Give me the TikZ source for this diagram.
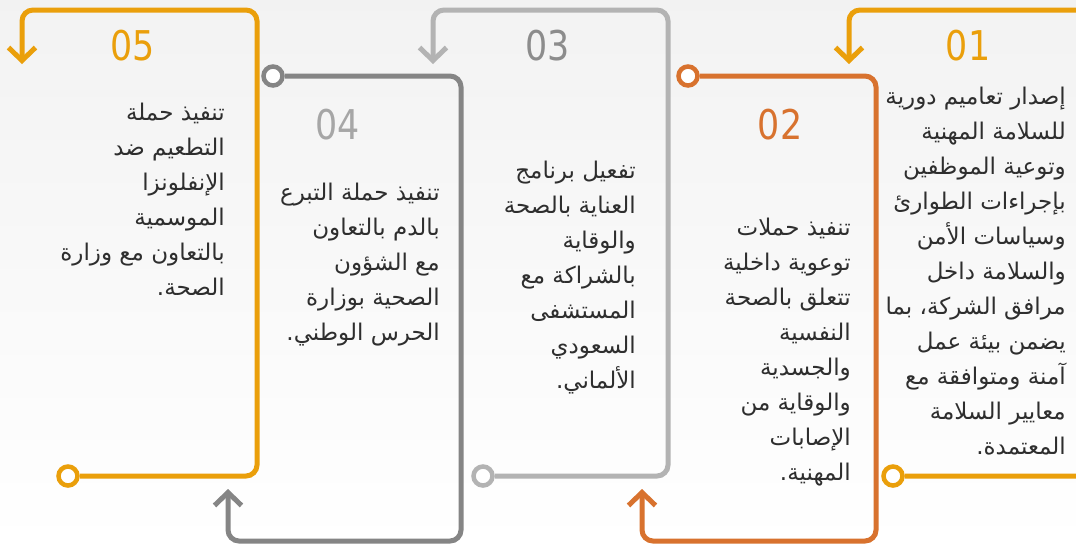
\documentclass[tikz,border=0pt]{standalone}
\usepackage{fontspec}
\usetikzlibrary{arrows.meta}
\TeXXeTstate=1
\newfontfamily\arabicfont[Script=Arabic]{DejaVu Sans}
\newfontfamily\numfont[FakeStretch=0.85]{DejaVu Sans}
\newcommand{\arl}[1]{\beginR #1\endR}
\definecolor{yel}{HTML}{EA9F0B}
\definecolor{org}{HTML}{D8722E}
\definecolor{lgr}{HTML}{B3B3B3}
\definecolor{dgr}{HTML}{858585}
\definecolor{ink}{HTML}{2E2E2E}

\begin{document}
\begin{tikzpicture}[x=1pt, y=-1pt,
		ln/.style={line width=5pt, rounded corners=11pt, -{Straight Barb[length=13pt, width=27pt]}},
		dot/.style={circle, draw, fill=white, line width=4.5pt, minimum size=19pt, inner sep=0pt},
		num/.style={font=\numfont\fontsize{41}{41}\selectfont, inner sep=0pt},
		txt/.style={font=\arabicfont\fontsize{23}{35}\selectfont, text=ink, align=right, anchor=north east, inner sep=0pt}]
			\useasboundingbox (0,0) rectangle (1076,547);
			\clip (0,0) rectangle (1076,547);
			\shade[top color=black!5, bottom color=white] (0,0) rectangle (1076,547);

			% start circles and arrow ends
			\node[dot, draw=yel] (s1) at (893,476) {};
			\node[dot, draw=org] (s2) at (688,76) {};
			\node[dot, draw=lgr] (s3) at (483,476) {};
			\node[dot, draw=dgr] (s4) at (273,76) {};
			\node[dot, draw=yel] (s5) at (68,476) {};
			\coordinate (a1) at (849,64);
			\coordinate (a2) at (642,489);
			\coordinate (a3) at (433,64);
			\coordinate (a4) at (228,489);
			\coordinate (a5) at (22,64);

			\draw[ln, yel] (s1) -| (1100,10) -| (a1);
			\draw[ln, org] (s2) -| (876,541) -| (a2);
			\draw[ln, lgr] (s3) -| (668,10) -| (a3);
			\draw[ln, dgr] (s4) -| (461,541) -| (a4);
			\draw[ln, yel] (s5) -| (257,10) -| (a5);

			% numbers
			\node[num, text=yel] (n1) at (968,46) {01};
			\node[num, text=org] (n2) at (780,125) {02};
			\node[num, text=black!45] (n3) at (548,46) {03};
			\node[num, text=black!35] (n4) at (338,125) {04};
			\node[num, text=yel] (n5) at (133,46) {05};

			% texts
			\node[txt] (t1) at (1066,87) {\arl{إصدار تعاميم دورية}\\ \arl{للسلامة المهنية}\\ \arl{وتوعية الموظفين}\\ \arl{بإجراءات الطوارئ}\\ \arl{وسياسات الأمن}\\ \arl{والسلامة داخل}\\ \arl{مرافق الشركة، بما}\\ \arl{يضمن بيئة عمل}\\ \arl{آمنة ومتوافقة مع}\\ \arl{معايير السلامة}\\ \arl{المعتمدة.}};
			\node[txt] (t2) at (851,218) {\arl{تنفيذ حملات}\\ \arl{توعوية داخلية}\\ \arl{تتعلق بالصحة}\\ \arl{النفسية}\\ \arl{والجسدية}\\ \arl{والوقاية من}\\ \arl{الإصابات}\\ \arl{المهنية.}};
			\node[txt] (t3) at (636,161) {\arl{تفعيل برنامج}\\ \arl{العناية بالصحة}\\ \arl{والوقاية}\\ \arl{بالشراكة مع}\\ \arl{المستشفى}\\ \arl{السعودي}\\ \arl{الألماني.}};
			\node[txt] (t4) at (440,183) {\arl{تنفيذ حملة التبرع}\\ \arl{بالدم بالتعاون}\\ \arl{مع الشؤون}\\ \arl{الصحية بوزارة}\\ \arl{الحرس الوطني.}};
			\node[txt] (t5) at (225,103) {\arl{تنفيذ حملة}\\ \arl{التطعيم ضد}\\ \arl{الإنفلونزا}\\ \arl{الموسمية}\\ \arl{بالتعاون مع وزارة}\\ \arl{الصحة.}};
		\end{tikzpicture}
\end{document}
